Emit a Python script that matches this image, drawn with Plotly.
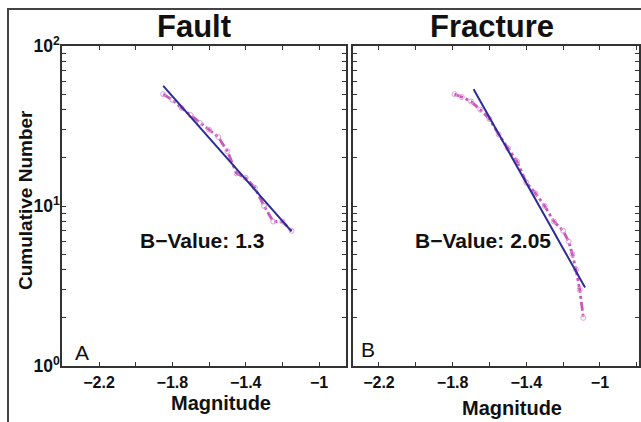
import numpy as np
import plotly.graph_objects as go

# Cumulative frequency-magnitude data
fault_mag = [-1.85, -1.80, -1.75, -1.70, -1.65, -1.60, -1.55, -1.50, -1.45,
             -1.40, -1.35, -1.30, -1.25, -1.20, -1.15]
fault_cum = [50, 46, 41, 37, 33, 30, 27, 22, 16, 15, 13, 10, 8, 8, 7]

fracture_mag = [-1.79, -1.75, -1.70, -1.65, -1.60, -1.55, -1.50, -1.45, -1.40,
                -1.35, -1.30, -1.25, -1.20, -1.17, -1.15, -1.13, -1.11, -1.09]
fracture_cum = [50, 48, 45, 40, 35, 28, 23, 19, 14, 12, 10, 8, 7, 6, 5, 4, 3, 2]

# Gutenberg-Richter fits: log10(N) = a - b*M
fault_b, fault_a = 1.3, -0.654
fault_fit_span = [-1.85, -1.15]
fracture_b, fracture_a = 2.05, -1.726
fracture_fit_span = [-1.686, -1.081]

panel_titles = ["Fault", "Fracture"]
panel_letters = ["A", "B"]
x_labelled = [-2.2, -1.8, -1.4, -1.0]
x_labels = ["\u22122.2", "\u22121.8", "\u22121.4", "\u22121"]
x_minor = [-2.4, -2.0, -1.6, -1.2, -0.8]
y_major = [1, 10, 100]
y_major_text = ["10<sup>0</sup>", "10<sup>1</sup>", "10<sup>2</sup>"]
y_minor = [2, 3, 4, 5, 6, 7, 8, 9, 20, 30, 40, 50, 60, 70, 80, 90]

W, H = 641, 422
def px(x): return x / W
def py(y): return 1 - y / H

DATA_COLOR = "#c23cb2"
FIT_COLOR = "#2b2c98"
AXIS_COLOR = "#333333"
FONT = "Liberation Sans"

fig = go.Figure()

panels = [
    dict(mag=fault_mag, cum=fault_cum, a=fault_a, b=fault_b, span=fault_fit_span,
         xa="x", ya="y"),
    dict(mag=fracture_mag, cum=fracture_cum, a=fracture_a, b=fracture_b,
         span=fracture_fit_span, xa="x2", ya="y2"),
]
for p in panels:
    fig.add_trace(go.Scatter(
        x=p["mag"], y=p["cum"], mode="lines+markers",
        line=dict(color=DATA_COLOR, width=2.8, dash="dashdot"),
        marker=dict(symbol="circle-open", size=5, color="#d890cf",
                    line=dict(width=1, color="#d890cf")),
        opacity=0.85, xaxis=p["xa"], yaxis=p["ya"], showlegend=False))
    fm = np.array(p["span"])
    fig.add_trace(go.Scatter(
        x=fm, y=10 ** (p["a"] - p["b"] * fm), mode="lines",
        line=dict(color=FIT_COLOR, width=2),
        xaxis=p["xa"], yaxis=p["ya"], showlegend=False))

tick_style = dict(ticks="inside", ticklen=4, tickcolor=AXIS_COLOR, tickwidth=1)
axis_common = dict(showline=True, linecolor=AXIS_COLOR, linewidth=1.5,
                   mirror="allticks", showgrid=False, zeroline=False,
                   automargin=False, **tick_style)
x_common = dict(tickvals=x_labelled, ticktext=x_labels,
                minor=dict(tickvals=x_minor, **tick_style),
                ticklabelstandoff=1,
                tickfont=dict(family=FONT, size=16, color="#111", weight="bold"),
                **axis_common)
y_common = dict(type="log", range=[0, 2], tickvals=y_major,
                minor=dict(tickvals=y_minor, **tick_style),
                **axis_common)

fig.update_layout(
    template="none",
    width=W, height=H, margin=dict(l=0, r=0, t=0, b=0, pad=0),
    paper_bgcolor="white", plot_bgcolor="white",
    xaxis=dict(domain=[px(62), px(346)], range=[-2.402, -0.853], anchor="y",
               **x_common),
    yaxis=dict(domain=[py(366), py(46)], anchor="x", ticktext=y_major_text,
               ticklabelstandoff=-3,
               tickfont=dict(family=FONT, size=17.5, color="#111", weight="bold"),
               **y_common),
    xaxis2=dict(domain=[px(353), px(639)], range=[-2.341, -0.788], anchor="y2",
                **x_common),
    yaxis2=dict(domain=[py(366), py(46)], anchor="x2", showticklabels=False,
                **y_common),
)

def text(x, y, s, size, bold=True, angle=0):
    fig.add_annotation(x=px(x), y=py(y), xref="paper", yref="paper", text=s,
                       showarrow=False, textangle=angle,
                       xanchor="center", yanchor="middle",
                       font=dict(family=FONT, size=size, color="#111",
                                 weight="bold" if bold else "normal"))

text(194, 27, panel_titles[0], 31)
text(492, 27, panel_titles[1], 31)
text(25, 200, "Cumulative Number", 19, angle=-90)
text(221, 403, "Magnitude", 20)
text(512, 408, "Magnitude", 20)
text(202, 241, "B\u2212Value: %g" % fault_b, 21)
text(483, 241, "B\u2212Value: %g" % fracture_b, 21)
text(82, 352, panel_letters[0], 21, bold=False)
text(368, 349, panel_letters[1], 21, bold=False)

# outer frame around the figure
fig.add_shape(type="path", xref="paper", yref="paper",
              path=f"M {px(8)} -0.05 L {px(8)} {py(9)} L 1.05 {py(9)}",
              line=dict(color="#444", width=2))

fig.write_html("out.html")
